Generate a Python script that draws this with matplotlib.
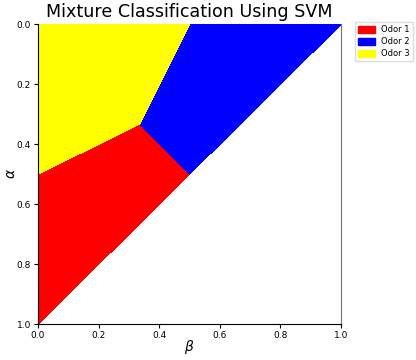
import matplotlib
matplotlib.use("Agg")
import matplotlib.pyplot as plt
from matplotlib.patches import Patch

# Region boundaries (beta, alpha)
labels = ["Odor 1", "Odor 2", "Odor 3"]
colors = ["red", "blue", "yellow"]
odor1_beta = [0.0, 0.0, 0.335, 0.5, 0.0]
odor1_alpha = [1.0, 0.5, 0.333, 0.5, 1.0]
odor2_beta = [0.335, 0.5, 1.0, 0.5]
odor2_alpha = [0.333, 0.0, 0.0, 0.5]
odor3_beta = [0.0, 0.5, 0.335, 0.0]
odor3_alpha = [0.0, 0.0, 0.333, 0.5]
xticks = [0.0, 0.2, 0.4, 0.6, 0.8, 1.0]
yticks = [0.0, 0.2, 0.4, 0.6, 0.8, 1.0]

fig = plt.figure(figsize=(4.16, 3.6), dpi=100)
ax = fig.add_axes([38/416, 36/360, 303/416, 300/360])

regions = [(odor1_beta, odor1_alpha), (odor2_beta, odor2_alpha), (odor3_beta, odor3_alpha)]
for (bx, ay), c in zip(regions, colors):
    ax.fill(bx, ay, facecolor=c, edgecolor=c, lw=0.3, antialiased=False)

ax.set_xlim(0, 1)
ax.set_ylim(1, 0)
ax.set_xticks(xticks)
ax.set_yticks(yticks)
ax.set_xticklabels([f"{t:.1f}" for t in xticks])
ax.set_yticklabels([f"{t:.1f}" for t in yticks])
ax.tick_params(labelsize=6.5, length=3, width=0.8, pad=2)
for s in ax.spines.values():
    s.set_linewidth(0.8)
ax.spines["right"].set_color("#777777")
ax.spines["top"].set_visible(False)
ax.set_xlabel(r"$\beta$", fontsize=10, va="center")
ax.set_ylabel(r"$\alpha$", fontsize=10, va="center")
ax.xaxis.set_label_coords(0.5, -0.078)
ax.yaxis.set_label_coords(-0.088, 0.5)
ax.set_title("Mixture Classification Using SVM", fontsize=12.6, pad=5)

handles = [Patch(color=c, label=l) for c, l in zip(colors, labels)]
ax.legend(handles=handles, loc="upper left", bbox_to_anchor=(1.045, 1.007),
          fontsize=6, handlelength=2.0, handleheight=0.9, borderaxespad=0,
          labelspacing=0.35, handletextpad=0.8, framealpha=1, edgecolor="#dddddd")

fig.savefig("out.png", dpi=100)
